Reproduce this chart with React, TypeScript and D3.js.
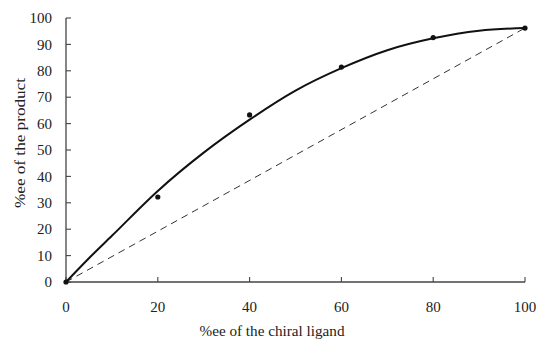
import React from "react";
import * as d3 from "d3";

const pointX = [0, 20, 40, 60, 80, 100];
const pointY = [0, 32.2, 63.3, 81.4, 92.6, 96.2];
const curveX = [0, 5, 10, 20, 30, 40, 50, 60, 70, 80, 90, 100];
const curveY = [0, 9, 17.5, 34.5, 49, 61.5, 72.5, 81, 87.8, 92.3, 95.2, 96.2];
const diagX = [0, 100];
const diagY = [0, 96.2];
const xTicks = [0, 20, 40, 60, 80, 100];
const yTicks = [0, 10, 20, 30, 40, 50, 60, 70, 80, 90, 100];

export default function App() {
  const W = 539, H = 340;
  const x = d3.scaleLinear().domain([0, 100]).range([66, 525]);
  const y = d3.scaleLinear().domain([0, 100]).range([282, 18]);
  const line = d3.line<number>().x((_, i) => x(curveX[i])).y((d) => y(d)).curve(d3.curveMonotoneX);
  const diag = d3.line<number>().x((_, i) => x(diagX[i])).y((d) => y(d));
  const font = "'Liberation Serif', 'Times New Roman', serif";
  return (
    <svg width={W} height={H} style={{ position: "absolute", left: 0, top: 0, background: "#fff" }}>
      <g fontFamily={font} fill="#222">
        <line x1={x(0)} x2={x(0)} y1={y(0)} y2={y(100)} stroke="#444" strokeWidth={1.3} />
        <line x1={x(0)} x2={x(100)} y1={y(0)} y2={y(0)} stroke="#444" strokeWidth={1.3} />
        {yTicks.map((t) => (
          <g key={"y" + t}>
            <line x1={x(0)} x2={x(0) + 5} y1={y(t)} y2={y(t)} stroke="#444" strokeWidth={1.1} />
            <text x={52} y={y(t)} dy="0.35em" textAnchor="end" fontSize={15}>{t}</text>
          </g>
        ))}
        {xTicks.map((t) => (
          <g key={"x" + t}>
            <line x1={x(t)} x2={x(t)} y1={y(0)} y2={y(0) - 5} stroke="#444" strokeWidth={1.1} />
            <text x={x(t)} y={312} textAnchor="middle" fontSize={15}>{t}</text>
          </g>
        ))}
        <text x={272} y={336} textAnchor="middle" fontSize={15} textLength={145} lengthAdjust="spacingAndGlyphs">%ee of the chiral ligand</text>
        <text transform="translate(25,143) rotate(-90)" textAnchor="middle" fontSize={15} textLength={130} lengthAdjust="spacingAndGlyphs">%ee of the product</text>
        <path d={diag(diagY) || ""} fill="none" stroke="#333" strokeWidth={1} strokeDasharray="7,5" />
        <path d={line(curveY) || ""} fill="none" stroke="#111" strokeWidth={2} />
        {pointY.map((v, i) => (
          <circle key={i} cx={x(pointX[i])} cy={y(v)} r={2.6} fill="#111" />
        ))}
      </g>
    </svg>
  );
}
